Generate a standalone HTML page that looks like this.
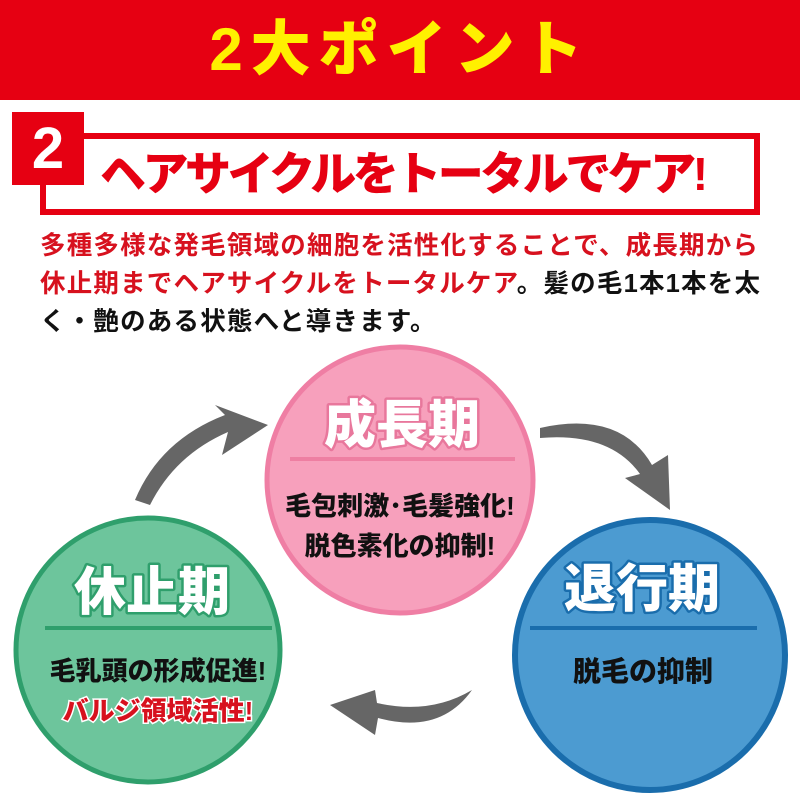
<!DOCTYPE html>
<html><head><meta charset="utf-8"><style>
*{margin:0;padding:0}
body{width:800px;height:800px;background:#fff;position:relative;overflow:hidden;font-family:"Liberation Sans","Noto Sans CJK JP",sans-serif;font-weight:bold}
.a{position:absolute;white-space:nowrap}
</style></head><body>
<div class="a" style="left:0;top:0;width:800px;height:100px;background:#e60012"></div>
<div class="a" style="left:0;top:14px;width:800px;text-align:center;font-size:60px;line-height:72px;color:#fff000;font-weight:900;letter-spacing:8px">2大ポイント</div>
<div class="a" style="left:40px;top:133px;width:708px;height:70px;border:6px solid #e60012"></div>
<div class="a" style="left:12px;top:112px;width:72px;height:73px;background:#e60012;color:#fff;font-size:58px;line-height:73px;text-align:center;font-weight:900">2</div>
<div class="a" style="left:100px;top:144px;font-size:46px;line-height:60px;color:#e60012;font-weight:900;letter-spacing:-3.5px">ヘアサイクルをトータルでケア!</div>
<div class="a" style="left:40px;top:227px;font-size:25.5px;line-height:38px;color:#d7111e;letter-spacing:1.2px">多種多様な発毛領域の細胞を活性化することで、成長期から<br>休止期までヘアサイクルをトータルケア<span style="color:#111">。髪の毛1本1本を太</span><br><span style="color:#111">く・艶のある状態へと導きます。</span></div>
<svg class="a" style="left:0;top:0" width="800" height="800">
<g fill="#666">
<path d="M135,500 Q160,440 225,415 L215,405 L268,425 L222,455 L228,432 Q175,455 150,505 Z"/>
<path d="M540,428 Q620,410 652,465 L668,455 L670,510 L625,478 L640,474 Q610,432 540,438 Z"/>
<path d="M472,690 Q440,735 378,718 L375,735 L330,705 L375,690 L377,703 Q430,715 472,690 Z"/>
</g>
<circle cx="400" cy="480" r="133" fill="#f7a0bc" stroke="#ef7ea4" stroke-width="5"/>
<circle cx="148" cy="650" r="132" fill="#6dc59c" stroke="#2f9f6c" stroke-width="5"/>
<circle cx="650" cy="655" r="135" fill="#4c9bd1" stroke="#1a6dac" stroke-width="6"/>
<rect x="290" y="457" width="225" height="4" fill="#ee7fa2"/>
<rect x="45" y="626" width="227" height="4" fill="#2f9f6c"/>
<rect x="530" y="626" width="227" height="4" fill="#1a6dac"/>
<g font-family="Liberation Sans,Noto Sans CJK JP,sans-serif" font-weight="900" text-anchor="middle" paint-order="stroke" stroke-linejoin="round">
<text x="402" y="443" font-size="52" fill="#fff" stroke="#e8779c" stroke-width="5">成長期</text>
<text x="152" y="610" font-size="52" fill="#fff" stroke="#2f9f6c" stroke-width="5">休止期</text>
<text x="642" y="607" font-size="52" fill="#fff" stroke="#1a6dac" stroke-width="5">退行期</text>
</g>
<g font-family="Liberation Sans,Noto Sans CJK JP,sans-serif" font-weight="900" text-anchor="middle">
<text x="400" y="515" fill="#111" font-size="26">毛包刺激･毛髪強化!</text>
<text x="400" y="555" fill="#111" font-size="26">脱色素化の抑制!</text>
<text x="158" y="680" fill="#111" font-size="26">毛乳頭の形成促進!</text>
<text x="158" y="720" fill="#d7111e" font-size="26" stroke="#fff" stroke-width="3" paint-order="stroke">バルジ領域活性!</text>
<text x="643" y="681" fill="#111" font-size="28">脱毛の抑制</text>
</g>
</svg>
</body></html>
